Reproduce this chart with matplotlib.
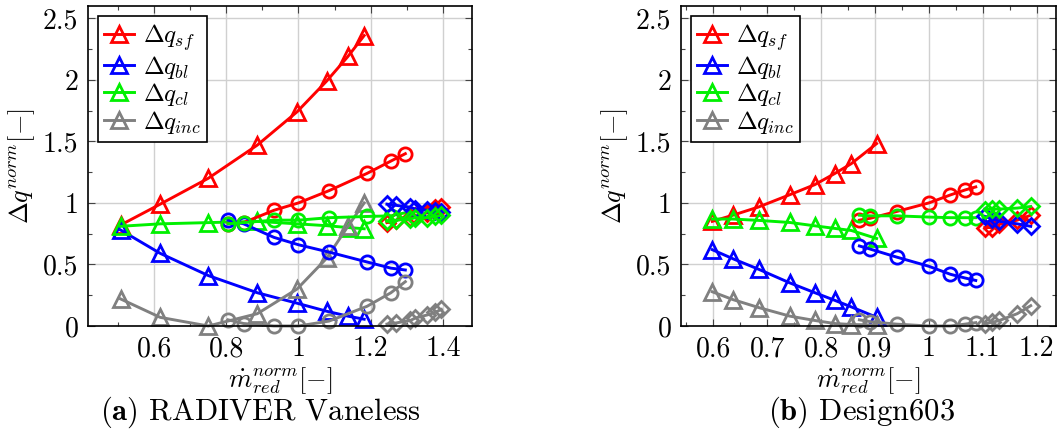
import numpy as np
import matplotlib
matplotlib.use("Agg")
import matplotlib.pyplot as plt
from matplotlib.ticker import FuncFormatter, MultipleLocator

plt.rcParams["font.family"] = "cmr10"
plt.rcParams["mathtext.fontset"] = "cm"
plt.rcParams["axes.formatter.use_mathtext"] = True

# RADIVER Vaneless
a_tri_x = [0.507, 0.617, 0.75, 0.886, 0.996, 1.078, 1.137, 1.182]
a_tri_sf = [0.82, 0.99, 1.20, 1.47, 1.74, 1.99, 2.19, 2.36]
a_tri_bl = [0.78, 0.59, 0.41, 0.27, 0.185, 0.12, 0.08, 0.055]
a_tri_cl = [0.81, 0.83, 0.84, 0.85, 0.83, 0.815, 0.80, 0.79]
a_tri_inc = [0.22, 0.07, 0.0, 0.10, 0.30, 0.55, 0.81, 1.0]

a_circ_x = [0.805, 0.848, 0.932, 1.0, 1.085, 1.19, 1.256, 1.296]
a_circ_sf = [0.83, 0.84, 0.94, 1.0, 1.10, 1.24, 1.34, 1.40]
a_circ_bl = [0.86, 0.83, 0.72, 0.66, 0.60, 0.52, 0.47, 0.455]
a_circ_cl = [0.83, 0.84, 0.86, 0.86, 0.88, 0.89, 0.895, 0.92]
a_circ_inc = [0.05, 0.02, 0.0, 0.0, 0.04, 0.16, 0.27, 0.36]

a_dia_x = [1.245, 1.271, 1.31, 1.324, 1.357, 1.378, 1.396]
a_dia_sf = [0.84, 0.86, 0.88, 0.89, 0.92, 0.96, 0.97]
a_dia_bl = [0.99, 0.98, 0.965, 0.95, 0.94, 0.935, 0.93]
a_dia_cl = [0.85, 0.86, 0.87, 0.88, 0.88, 0.89, 0.90]
a_dia_inc = [0.015, 0.025, 0.045, 0.065, 0.09, 0.11, 0.135]

# Design603
b_tri_x = [0.598, 0.636, 0.684, 0.742, 0.788, 0.825, 0.856, 0.903]
b_tri_sf = [0.85, 0.90, 0.967, 1.067, 1.148, 1.238, 1.319, 1.482]
b_tri_bl = [0.62, 0.547, 0.461, 0.35, 0.271, 0.209, 0.155, 0.071]
b_tri_cl = [0.869, 0.869, 0.858, 0.841, 0.814, 0.793, 0.776, 0.711]
b_tri_inc = [0.278, 0.215, 0.15, 0.08, 0.045, 0.02, 0.012, 0.008]

b_circ_x = [0.871, 0.891, 0.94, 1.0, 1.04, 1.067, 1.087]
b_circ_sf = [0.86, 0.875, 0.93, 1.0, 1.065, 1.105, 1.13]
b_circ_bl = [0.65, 0.625, 0.56, 0.485, 0.42, 0.39, 0.37]
b_circ_cl = [0.90, 0.895, 0.895, 0.885, 0.88, 0.88, 0.88]
b_circ_inc = [0.05, 0.035, 0.015, 0.0, 0.0, 0.015, 0.027]

b_dia_x = [1.104, 1.118, 1.131, 1.164, 1.189]
b_dia_sf = [0.80, 0.80, 0.825, 0.86, 0.90]
b_dia_bl = [0.89, 0.87, 0.85, 0.83, 0.81]
b_dia_cl = [0.945, 0.95, 0.95, 0.958, 0.971]
b_dia_inc = [0.02, 0.03, 0.045, 0.10, 0.165]

labels = [r"$\Delta q_{sf}$", r"$\Delta q_{bl}$", r"$\Delta q_{cl}$", r"$\Delta q_{inc}$"]
colors = ["#ff0000", "#0000ff", "#00f000", "#808080"]


def draw_panel(ax, groups, xlim, xmajor):
    for marker, ms, x, ys in groups:
        for i, y in enumerate(ys):
            ax.plot(x, y, color=colors[i], marker=marker, ms=ms, mfc="none",
                    mew=2.0, lw=2.1, clip_on=False,
                    label=labels[i] if marker == "^" else None)
    ax.set_xlim(*xlim)
    ax.set_ylim(0, 2.6)
    ax.xaxis.set_major_locator(MultipleLocator(xmajor))
    ax.xaxis.set_minor_locator(MultipleLocator(xmajor / 2))
    ax.yaxis.set_major_locator(MultipleLocator(0.5))
    ax.yaxis.set_minor_locator(MultipleLocator(0.25))
    fmt = FuncFormatter(lambda v, p: "%g" % round(v, 3))
    ax.xaxis.set_major_formatter(fmt)
    ax.yaxis.set_major_formatter(fmt)
    ax.tick_params(which="both", direction="in", top=True, right=True,
                   labelsize=20, width=0.8, color="#444444")
    ax.tick_params(which="major", length=5, pad=7)
    ax.tick_params(which="minor", length=3)
    ax.grid(True, which="major", color="#d0d0d0", lw=1.0)
    ax.set_axisbelow(True)
    for s in ax.spines.values():
        s.set_linewidth(1.2)
    ax.set_xlabel(r"$\dot{m}^{norm}_{red}[-]$", fontsize=19, labelpad=2)
    ax.set_ylabel(r"$\Delta q^{norm}[-]$", fontsize=19, labelpad=4)
    leg = ax.legend(loc="upper left", fontsize=18, frameon=True, fancybox=False,
                    framealpha=1, edgecolor="black", handlelength=1.2,
                    handletextpad=0.35, labelspacing=0.02, borderpad=0.25,
                    borderaxespad=0.4)
    leg.get_frame().set_linewidth(1.2)


fig = plt.figure(figsize=(10.57, 4.32), dpi=100)
ax1 = fig.add_axes([0.0833, 0.2454, 0.363, 0.7407])
ax2 = fig.add_axes([0.6443, 0.2454, 0.3548, 0.7407])

draw_panel(ax1, [
    ("^", 11.5, a_tri_x, [a_tri_sf, a_tri_bl, a_tri_cl, a_tri_inc]),
    ("o", 9.5, a_circ_x, [a_circ_sf, a_circ_bl, a_circ_cl, a_circ_inc]),
    ("D", 8, a_dia_x, [a_dia_sf, a_dia_bl, a_dia_cl, a_dia_inc]),
], (0.417, 1.48), 0.2)

draw_panel(ax2, [
    ("^", 11.5, b_tri_x, [b_tri_sf, b_tri_bl, b_tri_cl, b_tri_inc]),
    ("o", 9.5, b_circ_x, [b_circ_sf, b_circ_bl, b_circ_cl, b_circ_inc]),
    ("D", 8, b_dia_x, [b_dia_sf, b_dia_bl, b_dia_cl, b_dia_inc]),
], (0.540, 1.236), 0.1)

fig.text(0.246, 0.028, r"$\mathbf{(a)}$ RADIVER Vaneless", fontsize=22, ha="center")
fig.text(0.815, 0.028, r"$\mathbf{(b)}$ Design603", fontsize=22, ha="center")

fig.savefig("out.png", dpi=100)
